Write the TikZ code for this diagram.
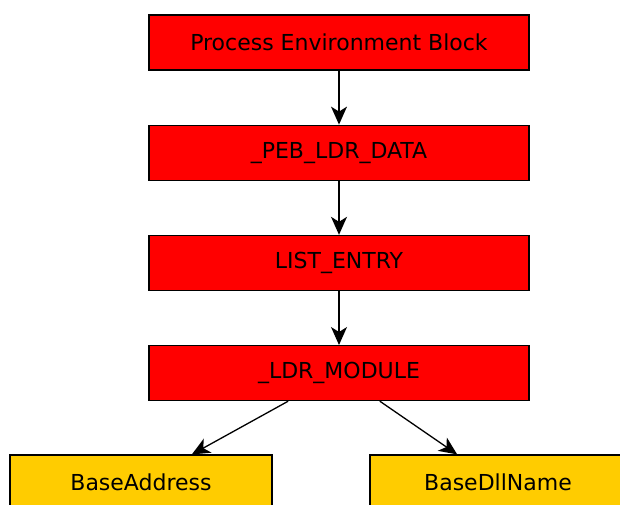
\documentclass[tikz,border=0pt]{standalone}
\usepackage{fontspec}
\setmainfont{DejaVu Sans}
\usepackage{tikz}
\usetikzlibrary{arrows.meta,positioning}
\definecolor{pebred}{HTML}{FF0000}
\definecolor{fldyellow}{HTML}{FFCC00}
\tikzset{
  redbox/.style={rectangle, draw=black, line width=1.2pt, fill=pebred, minimum width=380pt, minimum height=55pt, inner sep=0pt, font=\fontsize{22}{26}\selectfont},
  yelbox/.style={rectangle, draw=black, line width=1.2pt, fill=fldyellow, minimum width=262pt, minimum height=55pt, inner sep=0pt, font=\fontsize{22}{26}\selectfont},
  link/.style={-{Stealth[length=18pt, width=16pt, inset=5pt]}, line width=1.3pt},
}
\begin{document}
\begin{tikzpicture}[x=1pt, y=1pt]
  \useasboundingbox (0,0) rectangle (620,-504);
  \clip (0,0) rectangle (620,-504);

  %% ==================
  %% structure chain
  %% ==================
  \node[redbox] (peb) at (339,-42.5) {Process Environment Block};
  \node[redbox, below=54pt of peb] (ldrdata) {\_PEB\_LDR\_DATA};
  \node[redbox, below=54pt of ldrdata] (listentry) {LIST\_ENTRY};
  \node[redbox, below=54pt of listentry] (ldrmod) {\_LDR\_MODULE};

  % module fields
  \node[yelbox] (baseaddr) at (141,-482.5) {BaseAddress};
  \node[yelbox, minimum width=256pt] (basename) at (498,-482.5) {BaseDllName};

  \draw[link] (peb) -- (ldrdata);
  \draw[link] (ldrdata) -- (listentry);
  \draw[link] (listentry) -- (ldrmod);
  \draw[link] (ldrmod) -- (baseaddr);
  \draw[link] (ldrmod) -- (basename);
\end{tikzpicture}
\end{document}
